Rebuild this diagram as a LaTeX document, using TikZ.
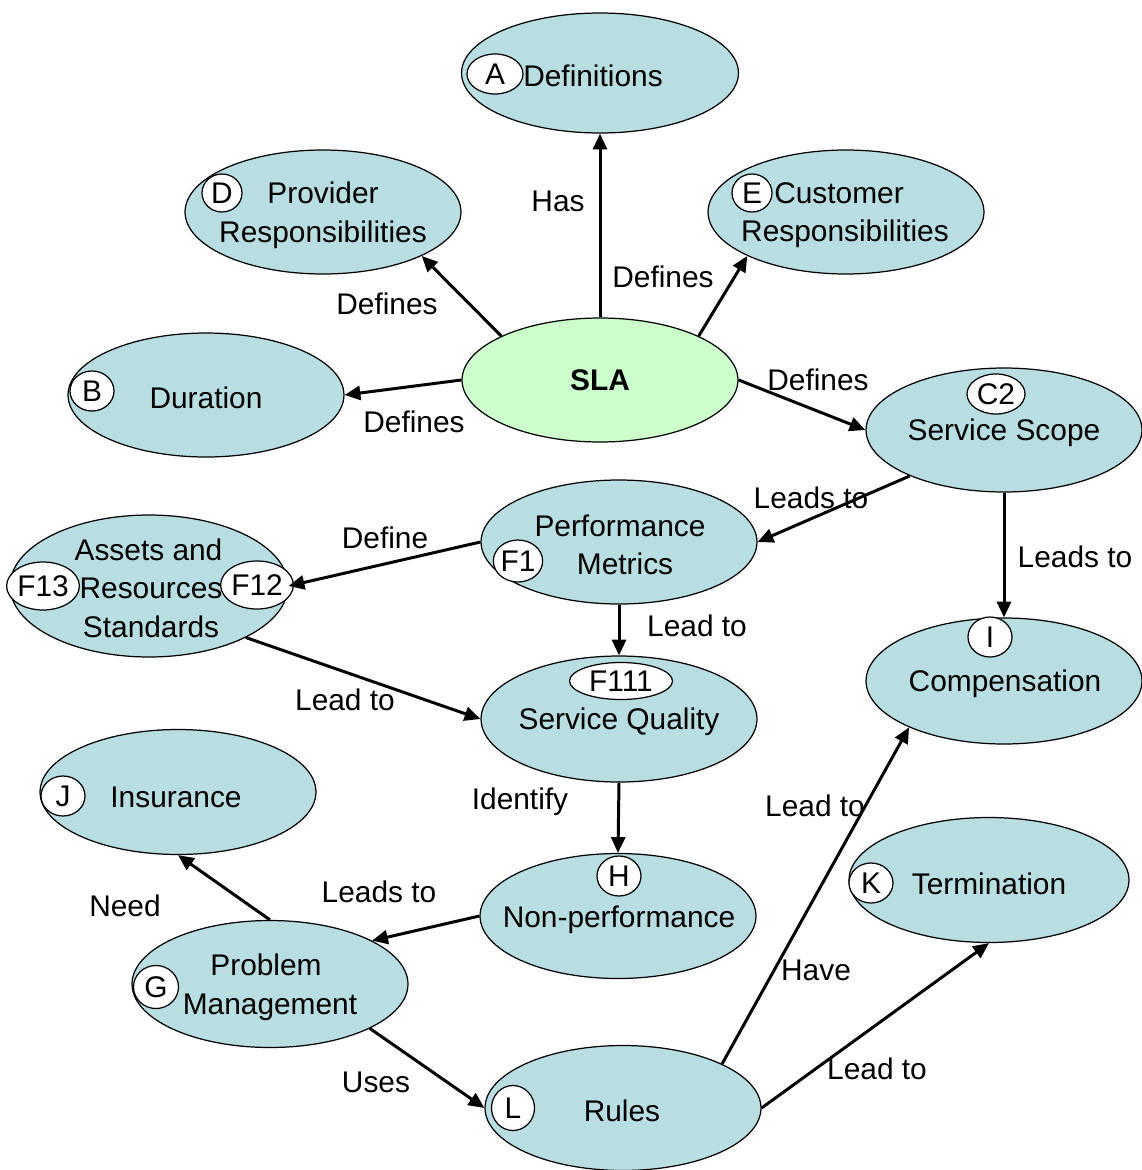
\documentclass[tikz,border=0pt]{standalone}
\usepackage{fontspec}
\setmainfont{Liberation Sans}
\usetikzlibrary{shapes.geometric,arrows.meta}
\definecolor{bub}{RGB}{184,222,226}
\definecolor{slag}{RGB}{204,255,204}
\begin{document}
\begin{tikzpicture}[x=0.02cm,y=-0.02cm,
  bubble/.style={ellipse,draw=black,line width=0.7pt,fill=bub,inner sep=0pt,minimum width=5.52cm,minimum height=2.48cm},
  tag/.style={ellipse,draw=black,line width=0.7pt,fill=white,inner sep=0pt,minimum width=0.84cm,minimum height=0.8cm,font=\fontsize{17}{20}\selectfont},
  txt/.style={align=center,font=\fontsize{17}{22}\selectfont,inner sep=0pt},
  lab/.style={font=\fontsize{17}{20}\selectfont,inner sep=0pt},
  conn/.style={line width=1.7pt,-{Triangle[length=9pt,width=8pt]}}]
\useasboundingbox (0,0) rectangle (1142,1170);

% Definitions
\node[bubble,minimum width=5.54cm,minimum height=2.4cm] (def) at (600,73) {};
\node[tag,minimum width=1.12cm] (tA) at (495,74) {A};
\node[txt] (defT) at (593,76) {Definitions};
% Provider
\node[bubble] (prov) at (323,212) {};
\node[tag,minimum width=0.8cm,minimum height=0.76cm] (tD) at (222,193) {D};
\node[txt] (provT) at (323,215) {Provider\\Responsibilities};
% Customer
\node[bubble] (cust) at (846,212) {};
\node[tag,minimum width=0.8cm,minimum height=0.76cm] (tE) at (752,193) {E};
\node[txt] (custT) at (845,215) {Customer\kern0.24cm\\Responsibilities};
% Duration
\node[bubble] (dur) at (206,395) {};
\node[tag,minimum width=0.88cm] (tB) at (92,391) {B};
\node[txt] (durT) at (206,398) {Duration};
% SLA
\node[bubble,fill=slag,font=\fontsize{17}{20}\selectfont\bfseries] (sla) at (600,380) {SLA};
% Service Scope
\node[bubble] (ss) at (1004,430) {};
\node[tag,minimum width=1.16cm] (tC2) at (996,394) {C2};
\node[txt] (ssT) at (1004,433) {Service Scope};
% Performance Metrics
\node[bubble] (pm) at (619,542) {};
\node[tag,minimum width=0.84cm,minimum height=0.84cm] (tF1) at (518,561) {F1};
\node[txt] (pmT) at (620,545) {Performance\\\kern0.2cm Metrics};
% Assets and Resources Standards
\node[bubble,minimum width=5.56cm,minimum height=2.84cm] (ars) at (149,586) {};
\node[tag,minimum width=1.32cm,minimum height=0.96cm] (tF13) at (43,586) {F13};
\node[tag,minimum width=1.2cm,minimum height=0.96cm] (tF12) at (257,585) {F12};
\node[txt] (arsT) at (151,588) {Assets and\kern0.1cm\\Resources\\Standards};
% Compensation
\node[bubble,minimum height=2.52cm] (comp) at (1004,681) {};
\node[tag,minimum width=0.88cm] (tI) at (990,637) {I};
\node[txt] (compT) at (1005,684) {Compensation};
% Service Quality
\node[bubble,minimum height=2.52cm] (sq) at (619,719) {};
\node[tag,minimum width=2.06cm,minimum height=0.74cm] (tF111) at (621,681) {F111};
\node[txt] (sqT) at (619,722) {Service Quality};
% Insurance
\node[bubble,minimum height=2.5cm] (ins) at (178,792) {};
\node[tag,minimum width=0.88cm] (tJ) at (63,796) {J};
\node[txt] (insT) at (176,797) {Insurance};
% Non-performance
\node[bubble,minimum height=2.5cm] (np) at (618,916) {};
\node[tag,minimum width=0.88cm] (tH) at (619,876) {H};
\node[txt] (npT) at (619,920) {Non-performance};
% Termination
\node[bubble,minimum width=5.6cm,minimum height=2.5cm] (term) at (989,880) {};
\node[tag,minimum width=0.88cm] (tK) at (871,883) {K};
\node[txt] (termT) at (989,884) {Termination};
% Problem Management
\node[bubble,minimum height=2.54cm] (pmg) at (270,984) {};
\node[tag,minimum width=0.9cm,minimum height=0.86cm] (tG) at (156,987) {G};
\node[txt] (pmgT) at (270,987) {Problem\kern0.16cm\\Management};
% Rules
\node[bubble,minimum height=2.5cm] (rules) at (623,1108) {};
\node[tag,minimum width=0.86cm,minimum height=0.9cm] (tL) at (513,1108) {L};
\node[txt] (rulesT) at (622,1111) {Rules};

% connectors
\draw[conn] (sla.north) -- (def.south);
\draw[conn] (sla.156) -- (prov.-24);
\draw[conn] (sla.24) -- (cust.204);
\draw[conn] (sla.west) -- (dur.east);
\draw[conn] (sla.east) -- (ss.west);
\draw[conn] (ss.206) -- (pm.east);
\draw[conn] (ss.south) -- (comp.north);
\draw[conn] (pm.west) -- (ars.east);
\draw[conn] (pm.south) -- (sq.north);
\draw[conn] (ars.-28) -- (sq.west);
\draw[conn] (sq.south) -- (np.north);
\draw[conn] (np.west) -- (pmg.23);
\draw[conn] (pmg.north) -- (ins.south);
\draw[conn] (pmg.-24) -- (rules.west);
\draw[conn] (rules.24) -- (comp.206);
\draw[conn] (rules.east) -- (term.south);

% labels
\node[lab] (l1) at (558,201) {Has};
\node[lab] (l2) at (387,304) {Defines};
\node[lab] (l3) at (663,277) {Defines};
\node[lab] (l4) at (414,422) {Defines};
\node[lab] (l5) at (818,380) {Defines};
\node[lab] (l6) at (811,498) {Leads to};
\node[lab] (l7) at (1075,557) {Leads to};
\node[lab] (l8) at (385,538) {Define};
\node[lab] (l9) at (697,626) {Lead to};
\node[lab] (l10) at (345,700) {Lead to};
\node[lab] (l11) at (520,802) {Identify};
\node[lab] (l12) at (379,892) {Leads to};
\node[lab] (l13) at (125,906) {Need};
\node[lab] (l14) at (376,1082) {Uses};
\node[lab] (l15) at (815,806) {Lead to};
\node[lab] (l16) at (816,970) {Have};
\node[lab] (l17) at (877,1069) {Lead to};
\end{tikzpicture}
\end{document}
